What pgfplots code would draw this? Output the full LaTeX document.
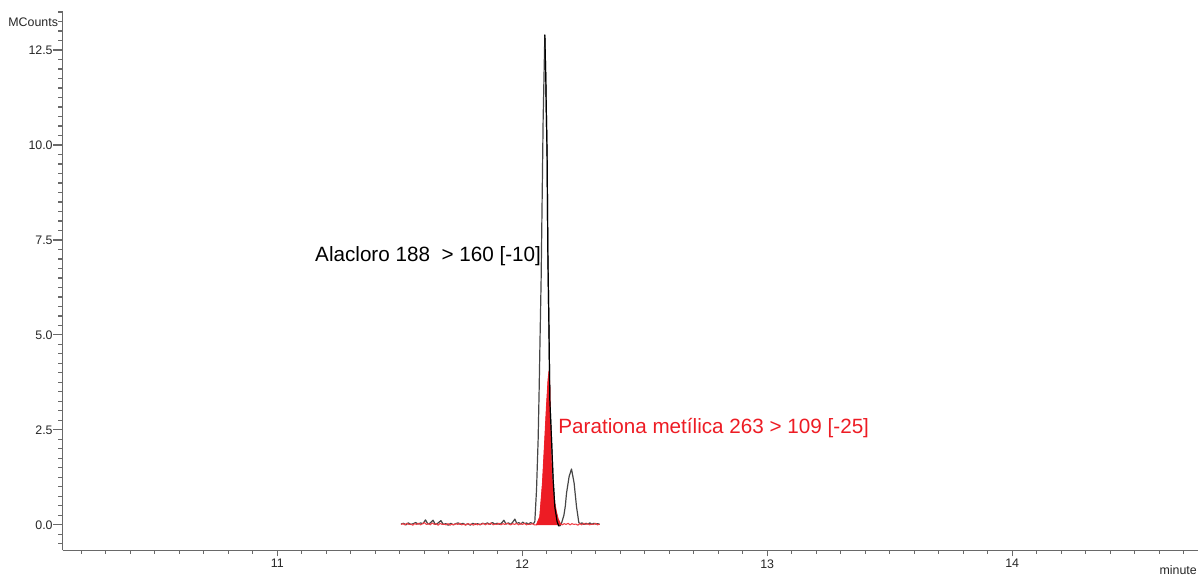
\documentclass[border=0pt]{standalone}
\usepackage{fontspec}
\setmainfont{Liberation Sans}
\usepackage{pgfplots}
\pgfplotsset{compat=1.18}
\definecolor{mred}{RGB}{237,28,36}
\definecolor{axgray}{RGB}{105,105,105}
\definecolor{trace}{RGB}{70,70,70}

\begin{document}
\begin{tikzpicture}
\begin{axis}[
  name=ax,
  scale only axis, width=852.2pt, height=404.25pt,
  xmin=10.124, xmax=14.76, ymin=-0.676, ymax=13.508,
  axis x line=bottom, axis y line=left,
  axis line style={axgray, line width=0.9pt, -},
  tick align=outside,
  xtick={11,12,13,14}, minor xtick={10.2,10.3,...,14.75},
  ytick={0,2.5,...,12.5}, minor ytick={-0.5,-0.25,...,13.5},
  tick style={axgray, line width=0.9pt},
  major tick length=7pt, minor tick length=3.3pt,
  x tick style={/pgfplots/major tick length=4.5pt,/pgfplots/minor tick length=2.5pt},
  /pgf/number format/assume math mode=true,
  ticklabel style={font=\fontsize{9.3}{10}\selectfont, text=black!85},
  yticklabel style={inner sep=0pt, xshift=-0.3pt,
    /pgf/number format/.cd, fixed, fixed zerofill, precision=1},
  xticklabel style={inner sep=0pt, yshift=0.5pt, /pgf/number format/.cd, fixed},
  clip=false,
]
% black trace (Alacloro)
\addplot[trace, line width=0.9pt, line join=round] coordinates {
(11.505,0.02)(11.515,0.04)(11.525,0.00)(11.535,0.05)(11.545,0.01)(11.555,0.03)
(11.565,0.06)(11.575,0.02)(11.585,0.05)(11.595,0.03)(11.605,0.13)(11.615,0.02)
(11.625,0.05)(11.636,0.12)(11.645,0.01)(11.655,0.04)(11.668,0.11)(11.678,0.01)
(11.688,0.03)(11.698,-0.01)(11.708,0.04)(11.718,0.00)(11.728,0.03)(11.738,0.05)
(11.748,0.01)(11.758,0.04)(11.768,0.00)(11.778,0.03)(11.788,-0.01)(11.798,0.04)
(11.808,0.01)(11.818,0.03)(11.828,0.00)(11.838,0.04)(11.848,0.02)(11.858,0.05)
(11.868,0.01)(11.878,0.06)(11.888,0.02)(11.898,0.04)(11.908,0.01)(11.916,0.05)
(11.925,0.12)(11.934,0.02)(11.944,0.05)(11.952,0.01)(11.960,0.06)(11.970,0.15)
(11.978,0.03)(11.986,0.06)(11.994,0.02)(12.002,0.07)(12.010,0.03)(12.018,0.05)
(12.026,0.01)(12.034,0.06)(12.042,0.03)(12.0485,0.05)
(12.0514,0.09)(12.0583,0.92)(12.0649,2.24)(12.069,3.55)(12.0726,4.87)(12.0771,6.45)
(12.0812,8.55)(12.0853,10.66)(12.0902,12.24)(12.0922,12.9)(12.0963,11.7)(12.0983,10.9)
(12.1016,9.66)(12.1044,7.24)(12.1097,4.87)(12.1126,3.29)(12.1195,2.24)(12.1261,1.18)
(12.133,0.47)(12.1424,0.08)(12.149,-0.03)(12.155,-0.02)(12.1603,0.04)(12.170,0.25)
(12.176,0.50)(12.1807,0.83)(12.1913,1.27)(12.2011,1.47)(12.2117,1.10)(12.2215,0.48)
(12.2309,0.06)(12.236,0.03)(12.244,0.05)(12.252,0.01)(12.260,0.04)(12.268,0.02)
(12.276,0.05)(12.284,0.01)(12.292,0.04)(12.300,0.02)(12.308,0.03)(12.316,0.01)
};
% red trace (Parationa metilica) baseline
\addplot[mred!85, line width=0.8pt, line join=round] coordinates {
(11.505,0.01)(11.513,0.03)(11.521,0.00)(11.529,0.04)(11.537,0.01)(11.545,0.02)
(11.553,-0.01)(11.561,0.03)(11.569,0.01)(11.577,0.04)(11.585,0.00)(11.593,0.03)
(11.601,0.06)(11.609,0.01)(11.617,0.03)(11.625,0.00)(11.633,0.05)(11.641,0.01)
(11.649,0.03)(11.657,-0.01)(11.665,0.04)(11.673,0.01)(11.681,0.02)(11.689,0.00)
(11.697,0.03)(11.705,-0.01)(11.713,0.02)(11.721,0.00)(11.729,0.03)(11.737,0.01)
(11.745,0.04)(11.753,0.00)(11.761,0.02)(11.769,-0.01)(11.777,0.03)(11.785,0.01)
(11.793,0.02)(11.801,-0.01)(11.809,0.03)(11.817,0.00)(11.825,0.02)(11.833,0.01)
(11.841,0.04)(11.849,0.00)(11.857,0.03)(11.865,0.01)(11.873,0.05)(11.881,0.00)
(11.889,0.02)(11.897,0.01)(11.905,0.04)(11.913,0.00)(11.921,0.03)(11.929,0.01)
(11.937,0.04)(11.945,0.02)(11.953,0.00)(11.961,0.03)(11.969,0.01)(11.977,0.04)
(11.985,0.00)(11.993,0.03)(12.001,0.01)(12.009,0.04)(12.017,0.00)(12.025,0.02)
(12.033,0.01)(12.041,0.03)(12.049,0.00)(12.0583,0.00)
(12.0718,0.21)(12.0828,1.1)(12.0922,2.24)(12.0991,3.11)(12.1057,3.82)(12.1097,4.05)
(12.1126,3.55)(12.1154,2.24)(12.1195,1.37)(12.1261,0.84)(12.133,0.55)(12.1399,0.32)
(12.1465,0.15)(12.1555,0.03)
(12.163,0.00)(12.171,0.03)(12.179,0.01)(12.187,0.04)(12.195,0.00)(12.203,0.03)
(12.211,0.01)(12.219,0.02)(12.227,-0.01)(12.235,0.03)(12.243,0.00)(12.251,0.04)
(12.259,0.01)(12.267,0.03)(12.275,0.00)(12.283,0.02)(12.291,0.01)(12.299,0.04)
(12.307,0.00)(12.316,0.02)
};
% red filled peak
\addplot[fill=mred, draw=mred, line width=0.4pt] coordinates {
(12.0583,0.00)(12.0718,0.21)(12.0828,1.1)(12.0922,2.24)(12.0991,3.11)(12.1057,3.82)
(12.1097,4.05)(12.1126,3.55)(12.1154,2.24)(12.1195,1.37)(12.1261,0.84)(12.133,0.55)
(12.1399,0.32)(12.1465,0.15)(12.1555,0.03)
} \closedcycle;
% right flank of the main black peak, drawn over the red area
\addplot[black, line width=0.9pt, line join=round] coordinates {
(12.0922,12.9)(12.0963,11.7)(12.0983,10.9)(12.1016,9.66)(12.1044,7.24)(12.1097,4.87)
(12.1126,3.29)(12.1195,2.24)(12.1261,1.18)(12.133,0.47)(12.1424,0.08)(12.149,-0.03)
};
\node[anchor=base west, inner sep=0pt, font=\fontsize{15.5}{18}\selectfont]
  at (axis cs:11.154,6.93) {Alacloro 188~ > 160 [-10]};
\node[anchor=base west, inner sep=0pt, text=mred, font=\fontsize{15.5}{18}\selectfont]
  at (axis cs:12.1465,2.41) {Parationa metílica 263 > 109 [-25]};
\node[anchor=east, inner sep=0pt, font=\fontsize{9.3}{10}\selectfont, text=black!85]
  at ([xshift=-3.3pt]axis cs:10.124,13.22) {MCounts};
\end{axis}
\node[anchor=base east, inner sep=0pt, font=\fontsize{9.3}{10}\selectfont, text=black!85]
  at ([xshift=-1pt,yshift=-18pt]ax.south east) {minute};
\path[use as bounding box] ([xshift=-47pt,yshift=-19pt]ax.south west) rectangle ([yshift=8.8pt]ax.north east);
\end{tikzpicture}
\end{document}
